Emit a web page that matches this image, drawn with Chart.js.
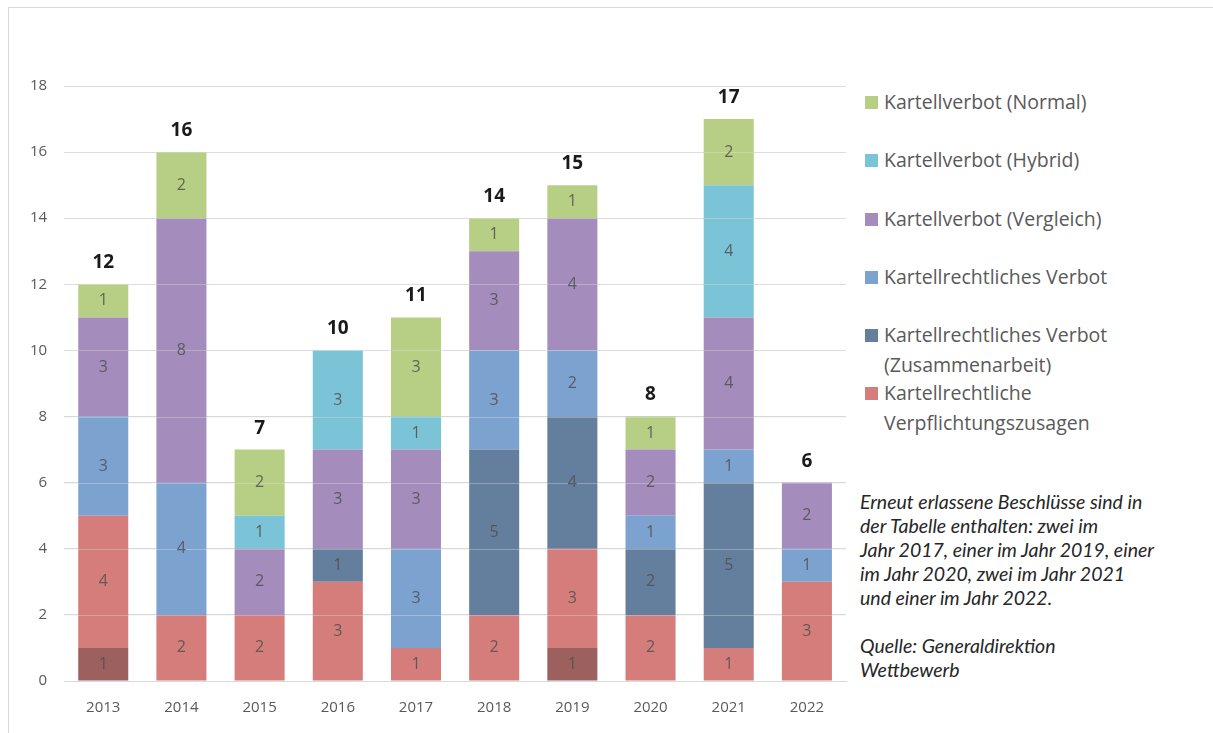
<!DOCTYPE html>
<html>
<head>
<meta charset="utf-8">
<script src="https://cdn.jsdelivr.net/npm/chart.js@4/dist/chart.umd.min.js"></script>
<style>
	body { margin: 0; background: #fff; width: 1213px; height: 733px; overflow: hidden; position: relative; }
	#frame { position: absolute; left: 8px; top: 7px; right: 0; bottom: 0; border-left: 1px solid #d9d9d9; border-top: 1px solid #d9d9d9; }
	#wrap { position: absolute; left: 0; top: 0; width: 852px; height: 735px; }
	#legend { position: absolute; left: 865px; top: 87px; font-family: "Open Sans", sans-serif; font-size: 19.5px; color: #595959; }
	.item { position: absolute; left: 0; white-space: nowrap; line-height: 30px; }
	.box { position: absolute; left: 0; top: 9px; width: 13px; height: 13px; }
	.lbl { position: absolute; left: 19px; top: 0; }
	#note { position: absolute; left: 860px; top: 490px; font-family: Lato, sans-serif; font-style: italic; font-size: 19.5px; line-height: 24px; color: #262626; }
</style>
</head>
<body>
<div id="frame"></div>
<div id="wrap"><canvas id="myChart"></canvas></div>
<div id="legend"></div>
<div id="note">Erneut erlassene Beschlüsse sind in<br>der Tabelle enthalten: zwei im<br>Jahr 2017, einer im Jahr 2019, einer<br>im Jahr 2020, zwei im Jahr 2021<br>und einer im Jahr 2022.<br><br>Quelle: Generaldirektion<br>Wettbewerb</div>
<script>
const years = ["2013", "2014", "2015", "2016", "2017", "2018", "2019", "2020", "2021", "2022"];

// bottom to top
const erneutZusagen = [1, 0, 0, 0, 0, 0, 1, 0, 0, 0];
const zusagen = [4, 2, 2, 3, 1, 2, 3, 2, 1, 3];
const verbotZusammen = [0, 0, 0, 1, 0, 5, 4, 2, 5, 0];
const verbot = [3, 4, 0, 0, 3, 3, 2, 1, 1, 1];
const vergleich = [3, 8, 2, 3, 3, 3, 4, 2, 4, 2];
const hybrid = [0, 0, 1, 3, 1, 0, 0, 0, 4, 0];
const normal = [1, 2, 2, 0, 3, 1, 1, 1, 2, 0];

const yTicks = [0, 2, 4, 6, 8, 10, 12, 14, 16, 18];

const legendItems = [
	{text: ["Kartellverbot (Normal)"], color: "#b7cf84", top: 0},
	{text: ["Kartellverbot (Hybrid)"], color: "#7bc3d7", top: 58},
	{text: ["Kartellverbot (Vergleich)"], color: "#a48cbd", top: 117},
	{text: ["Kartellrechtliches Verbot"], color: "#7ca3cf", top: 175},
	{text: ["Kartellrechtliches Verbot", "(Zusammenarbeit)"], color: "#647e9d", top: 233},
	{text: ["Kartellrechtliche", "Verpflichtungszusagen"], color: "#d47d7b", top: 291}
];

let legendDiv = document.getElementById("legend");
for (const it of legendItems) {
	let d = document.createElement('div');
	d.className = "item";
	d.style.top = it.top + "px";
	let b = document.createElement('div');
	b.className = "box";
	b.style.background = it.color;
	let l = document.createElement('div');
	l.className = "lbl";
	l.innerHTML = it.text.join("<br>");
	d.appendChild(b);
	d.appendChild(l);
	legendDiv.appendChild(d);
}

function ds(label, data, color) {
	return {
		label: label,
		data: data,
		backgroundColor: color,
		borderWidth: 0,
		barPercentage: 0.64,
		categoryPercentage: 1
	};
}

const segLabels = {
	id: 'segLabels',
	afterDatasetsDraw(chart) {
		const c = chart.ctx;
		const area = chart.chartArea;
		const ys = chart.scales.y;
		// faint gridlines over the bars
		c.save();
		c.strokeStyle = "rgba(230,230,230,0.35)";
		c.lineWidth = 1;
		for (const t of yTicks) {
			if (t == 0) continue;
			let py = Math.round(ys.getPixelForValue(t)) + 0.5;
			c.beginPath();
			c.moveTo(area.left, py);
			c.lineTo(area.right, py);
			c.stroke();
		}
		c.font = "16px 'Open Sans', sans-serif";
		c.fillStyle = "rgba(80,80,80,0.85)";
		c.textAlign = "center";
		c.textBaseline = "middle";
		chart.data.datasets.forEach((d, i) => {
			const meta = chart.getDatasetMeta(i);
			meta.data.forEach((bar, j) => {
				if (!d.data[j]) return;
				c.fillText(d.data[j], bar.x, (bar.y + bar.base) / 2);
			});
		});
		c.font = "bold 19px 'Open Sans', sans-serif";
		c.fillStyle = "#1a1a1a";
		c.textBaseline = "bottom";
		const last = chart.getDatasetMeta(0);
		years.forEach((y, j) => {
			let total = 0;
			chart.data.datasets.forEach(d => total += d.data[j]);
			c.fillText(total, last.data[j].x, ys.getPixelForValue(total) - 12);
		});
		c.restore();
	}
};

Chart.defaults.font.family = "'Open Sans', sans-serif";
Chart.defaults.font.size = 15;
Chart.defaults.color = "#595959";

let ctx = document.getElementById('myChart').getContext('2d');
let myChart = new Chart(ctx, {
	type: 'bar',
	data: {
		labels: years,
		datasets: [
			ds('Kartellrechtliche Verpflichtungszusagen (erneut)', erneutZusagen, '#9c605f'),
			ds('Kartellrechtliche Verpflichtungszusagen', zusagen, '#d47d7b'),
			ds('Kartellrechtliches Verbot (Zusammenarbeit)', verbotZusammen, '#647e9d'),
			ds('Kartellrechtliches Verbot', verbot, '#7ca3cf'),
			ds('Kartellverbot (Vergleich)', vergleich, '#a48cbd'),
			ds('Kartellverbot (Hybrid)', hybrid, '#7bc3d7'),
			ds('Kartellverbot (Normal)', normal, '#b7cf84')
		]
	},
	options: {
		responsive: true,
		maintainAspectRatio: false,
		animation: false,
		layout: {
			padding: {left: 13, right: 6, top: 86, bottom: 0}
		},
		plugins: {
			legend: {display: false},
			tooltip: {enabled: false}
		},
		scales: {
			x: {
				stacked: true,
				grid: {display: false, drawTicks: false},
				border: {color: '#d9d9d9'},
				ticks: {padding: 18}
			},
			y: {
				stacked: true,
				min: 0,
				max: 18,
				afterBuildTicks: axis => { axis.ticks = yTicks.map(v => ({value: v})); },
				grid: {color: '#d9d9d9', drawTicks: false},
				border: {display: false},
				ticks: {padding: 17}
			}
		}
	},
	plugins: [segLabels]
});
</script>
</body>
</html>
